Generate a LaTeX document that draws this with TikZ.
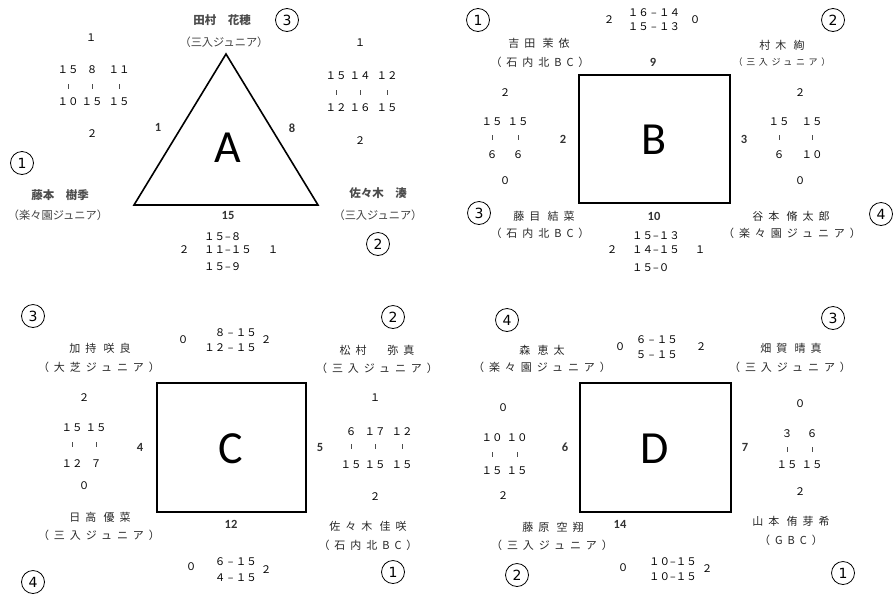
\documentclass[tikz,border=0pt]{standalone}
\usepackage{fontspec}
\setmainfont{Noto Sans CJK JP}
\newfontfamily\jpn{Noto Sans CJK JP}
\newfontfamily\jps{Noto Sans CJK JP}[LetterSpace=45]
\newfontfamily\jpt{Noto Sans CJK JP}[LetterSpace=40]
\newfontfamily\calf{Carlito}
\newfontfamily\dgt{DejaVu Sans}
\tikzset{
 nameA/.style={font=\jpn\bfseries\fontsize{11.5}{13}\selectfont, text=black!70, inner sep=0},
 clubA/.style={font=\jpn\fontsize{11.2}{13}\selectfont, text=black!75, inner sep=0},
 nameS/.style={font=\jps\fontsize{11}{12}\selectfont, text=black!85, inner sep=0},
 nameT/.style={font=\jpt\fontsize{9}{11}\selectfont, text=black!85, inner sep=0},
 sc/.style={font=\jpn\fontsize{10.5}{12}\selectfont, inner sep=0},
 lab/.style={font=\calf\bfseries\fontsize{12.5}{14}\selectfont, text=black!80, inner sep=0},
 big/.style={font=\calf\fontsize{46}{50}\selectfont, inner sep=0},
 circ/.style={circle, draw, line width=0.8pt, minimum size=23pt, inner sep=0, font=\dgt\fontsize{14}{16}\selectfont},
 tk/.style={line width=0.5pt, black!70},
 frame/.style={line width=1.6pt},
}
\begin{document}
\begin{tikzpicture}[x=1pt,y=-1pt]
\useasboundingbox (0,0) rectangle (893,595);
% ================= A =================
\coordinate (tA1) at (226,54);
\coordinate (tA2) at (318,205);
\coordinate (tA3) at (134,205);
\draw[frame, line join=miter] (tA1) -- (tA2) -- (tA3) -- cycle;
\node[big] (bigA) at (228,148) {A};
\node[lab] (lA1) at (158,127) {1};
\node[lab] (lA8) at (292,128) {8};
\node[lab] (lA15) at (228,215) {15};
\node[nameA] (nA3) at (222,20) {田村　花穂};
\node[clubA] (kA3) at (224,42) {（三入ジュニア）};
\node[circ] (cA3) at (287,20) {3};
\node[nameA] (nA1) at (60,195) {藤本　樹季};
\node[clubA] (kA1) at (58,215) {（楽々園ジュニア）};
\node[circ] (cA1) at (22,163) {1};
\node[nameA] (nA2) at (378,193) {佐々木　湊};
\node[clubA] (kA2) at (378,215) {（三入ジュニア）};
\node[circ] (cA2) at (378,244) {2};
% left block
\node[sc] (sAL0) at (91,38) {１};
\node[sc] (sAL1) at (68,70) {１５};
\node[sc] (sAL2) at (92,70) {８};
\node[sc] (sAL3) at (119,70) {１１};
\node[sc] (sAL4) at (68,102) {１０};
\node[sc] (sAL5) at (92,102) {１５};
\node[sc] (sAL6) at (119,102) {１５};
\node[sc] (sAL7) at (92,134) {２};
\foreach \x in {68,92,119} \draw[tk] (\x,84) -- (\x,89);
% right block
\node[sc] (sAR0) at (360,43) {１};
\node[sc] (sAR1) at (336,76) {１５};
\node[sc] (sAR2) at (360,76) {１４};
\node[sc] (sAR3) at (387,76) {１２};
\node[sc] (sAR4) at (336,108) {１２};
\node[sc] (sAR5) at (360,108) {１６};
\node[sc] (sAR6) at (387,108) {１５};
\node[sc] (sAR7) at (360,141) {２};
\foreach \x in {336,360,387} \draw[tk] (\x,90) -- (\x,95);
% bottom block
\node[sc] (sAB0) at (184,250) {２};
\node[sc, anchor=west] (sAB1) at (204,237) {１５–８};
\node[sc, anchor=west] (sAB2) at (204,250) {１１–１５};
\node[sc, anchor=west] (sAB3) at (204,267) {１５–９};
\node[sc] (sAB4) at (273,250) {１};
% ================= B =================
\draw[frame] (579,75) rectangle (730,203);
\node[big] (bigB) at (654,140) {B};
\node[lab] (lB9) at (653,62) {9};
\node[lab] (lB2) at (563,139) {2};
\node[lab] (lB3) at (744,139) {3};
\node[lab] (lB10) at (654,216) {10};
\node[sc] (sBT0) at (609,20) {２};
\node[sc] (sBT1) at (654,13) {１６ – １４};
\node[sc] (sBT2) at (654,27) {１５ – １３};
\node[sc] (sBT3) at (695,20) {０};
\node[circ] (cB1) at (478,20) {1};
\node[nameS] (nB1) at (539,43) {吉田 茉依};
\node[nameS] (kB1) at (540,62) {（石内北BC）};
\node[circ] (cB2) at (833,20) {2};
\node[nameS] (nB2) at (782,45) {村木 絢};
\node[nameT] (kB2) at (782,62) {（三入ジュニア）};
\node[circ] (cB3) at (479,213) {3};
\node[nameS] (nB3) at (544,216) {藤目 結菜};
\node[nameS] (kB3) at (540,233) {（石内北BC）};
\node[circ] (cB4) at (881,214) {4};
\node[nameS] (nB4) at (791,216) {谷本 脩太郎};
\node[nameS] (kB4) at (792,233) {（楽々園ジュニア）};
% left block
\node[sc] (sBL0) at (505,93) {２};
\node[sc] (sBL1) at (492,122) {１５};
\node[sc] (sBL2) at (518,122) {１５};
\node[sc] (sBL3) at (492,155) {６};
\node[sc] (sBL4) at (518,155) {６};
\node[sc] (sBL5) at (505,181) {０};
\foreach \x in {492,518} \draw[tk] (\x,135) -- (\x,140);
% right block
\node[sc] (sBR0) at (800,93) {２};
\node[sc] (sBR1) at (779,122) {１５};
\node[sc] (sBR2) at (812,122) {１５};
\node[sc] (sBR3) at (779,155) {６};
\node[sc] (sBR4) at (812,155) {１０};
\node[sc] (sBR5) at (800,181) {０};
\foreach \x in {779,812} \draw[tk] (\x,135) -- (\x,140);
% bottom block
\node[sc] (sBB0) at (612,250) {２};
\node[sc, anchor=west] (sBB1) at (632,236) {１５–１３};
\node[sc, anchor=west] (sBB2) at (632,250) {１４–１５};
\node[sc, anchor=west] (sBB3) at (632,268) {１５–０};
\node[sc] (sBB4) at (700,250) {１};
% ================= C =================
\draw[frame] (157,383) rectangle (306,512);
\node[big] (bigC) at (231,449) {C};
\node[lab] (lC4) at (140,447) {4};
\node[lab] (lC5) at (320,447) {5};
\node[lab] (lC12) at (231,524) {12};
\node[sc] (sCT0) at (183,340) {０};
\node[sc, anchor=east] (sCT1) at (257,333) {８ – １５};
\node[sc, anchor=east] (sCT2) at (257,348) {１２ – １５};
\node[sc] (sCT3) at (266,340) {２};
\node[circ] (cC3) at (33,316) {3};
\node[nameS] (nC3) at (100,348) {加持 咲良};
\node[nameS] (kC3) at (99,367) {（大芝ジュニア）};
\node[circ] (cC4) at (33,582) {4};
\node[nameS] (nC4) at (100,517) {日高 優菜};
\node[nameS] (kC4) at (99,535) {（三入ジュニア）};
\node[circ] (cC2) at (393,317) {2};
\node[nameS] (nC2) at (377,350) {松村　弥真};
\node[nameS] (kC2) at (377,368) {（三入ジュニア）};
\node[circ] (cC1) at (393,572) {1};
\node[nameS] (nC1) at (368,526) {佐々木 佳咲};
\node[nameS] (kC1) at (368,545) {（石内北BC）};
% left block
\node[sc] (sCL0) at (84,398) {２};
\node[sc] (sCL1) at (72,428) {１５};
\node[sc] (sCL2) at (96,428) {１５};
\node[sc] (sCL3) at (72,464) {１２};
\node[sc] (sCL4) at (96,464) {７};
\node[sc] (sCL5) at (84,486) {０};
\foreach \x in {72,96} \draw[tk] (\x,442) -- (\x,447);
% right block
\node[sc] (sCR0) at (375,398) {１};
\node[sc] (sCR1) at (351,432) {６};
\node[sc] (sCR2) at (375,432) {１７};
\node[sc] (sCR3) at (402,432) {１２};
\node[sc] (sCR4) at (351,465) {１５};
\node[sc] (sCR5) at (375,465) {１５};
\node[sc] (sCR6) at (402,465) {１５};
\node[sc] (sCR7) at (375,497) {２};
\foreach \x in {351,375,402} \draw[tk] (\x,444) -- (\x,449);
% bottom block
\node[sc] (sCB0) at (191,567) {０};
\node[sc, anchor=east] (sCB1) at (257,562) {６ – １５};
\node[sc, anchor=east] (sCB2) at (257,578) {４ – １５};
\node[sc] (sCB3) at (266,570) {２};
% ================= D =================
\draw[frame] (580,383) rectangle (731,512);
\node[big] (bigD) at (655,449) {D};
\node[lab] (lD6) at (565,447) {6};
\node[lab] (lD7) at (745,447) {7};
\node[lab] (lD14) at (620,524) {14};
\node[sc] (sDT0) at (620,347) {０};
\node[sc, anchor=east] (sDT1) at (678,340) {６ – １５};
\node[sc, anchor=east] (sDT2) at (678,355) {５ – １５};
\node[sc] (sDT3) at (701,347) {２};
\node[circ] (cD4) at (507,320) {4};
\node[nameS] (nD4) at (542,350) {森 恵太};
\node[nameS] (kD4) at (542,367) {（楽々園ジュニア）};
\node[circ] (cD2) at (517,575) {2};
\node[nameS] (nD2) at (553,527) {藤原 空翔};
\node[nameS] (kD2) at (552,545) {（三入ジュニア）};
\node[circ] (cD3) at (833,318) {3};
\node[nameS] (nD3) at (791,348) {畑賀 晴真};
\node[nameS] (kD3) at (790,367) {（三入ジュニア）};
\node[circ] (cD1) at (843,573) {1};
\node[nameS] (nD1) at (791,521) {山本 侑芽希};
\node[nameS] (kD1) at (791,540) {（GBC）};
% left block
\node[sc] (sDL0) at (503,408) {０};
\node[sc] (sDL1) at (492,438) {１０};
\node[sc] (sDL2) at (517,438) {１０};
\node[sc] (sDL3) at (492,471) {１５};
\node[sc] (sDL4) at (517,471) {１５};
\node[sc] (sDL5) at (503,496) {２};
\foreach \x in {492,517} \draw[tk] (\x,452) -- (\x,457);
% right block
\node[sc] (sDR0) at (800,404) {０};
\node[sc] (sDR1) at (787,434) {３};
\node[sc] (sDR2) at (812,434) {６};
\node[sc] (sDR3) at (787,465) {１５};
\node[sc] (sDR4) at (812,465) {１５};
\node[sc] (sDR5) at (800,492) {２};
\foreach \x in {787,812} \draw[tk] (\x,447) -- (\x,452);
% bottom block
\node[sc] (sDB0) at (623,568) {０};
\node[sc, anchor=east] (sDB1) at (697,562) {１０–１５};
\node[sc, anchor=east] (sDB2) at (697,577) {１０–１５};
\node[sc] (sDB3) at (707,569) {２};
\end{tikzpicture}
\end{document}
